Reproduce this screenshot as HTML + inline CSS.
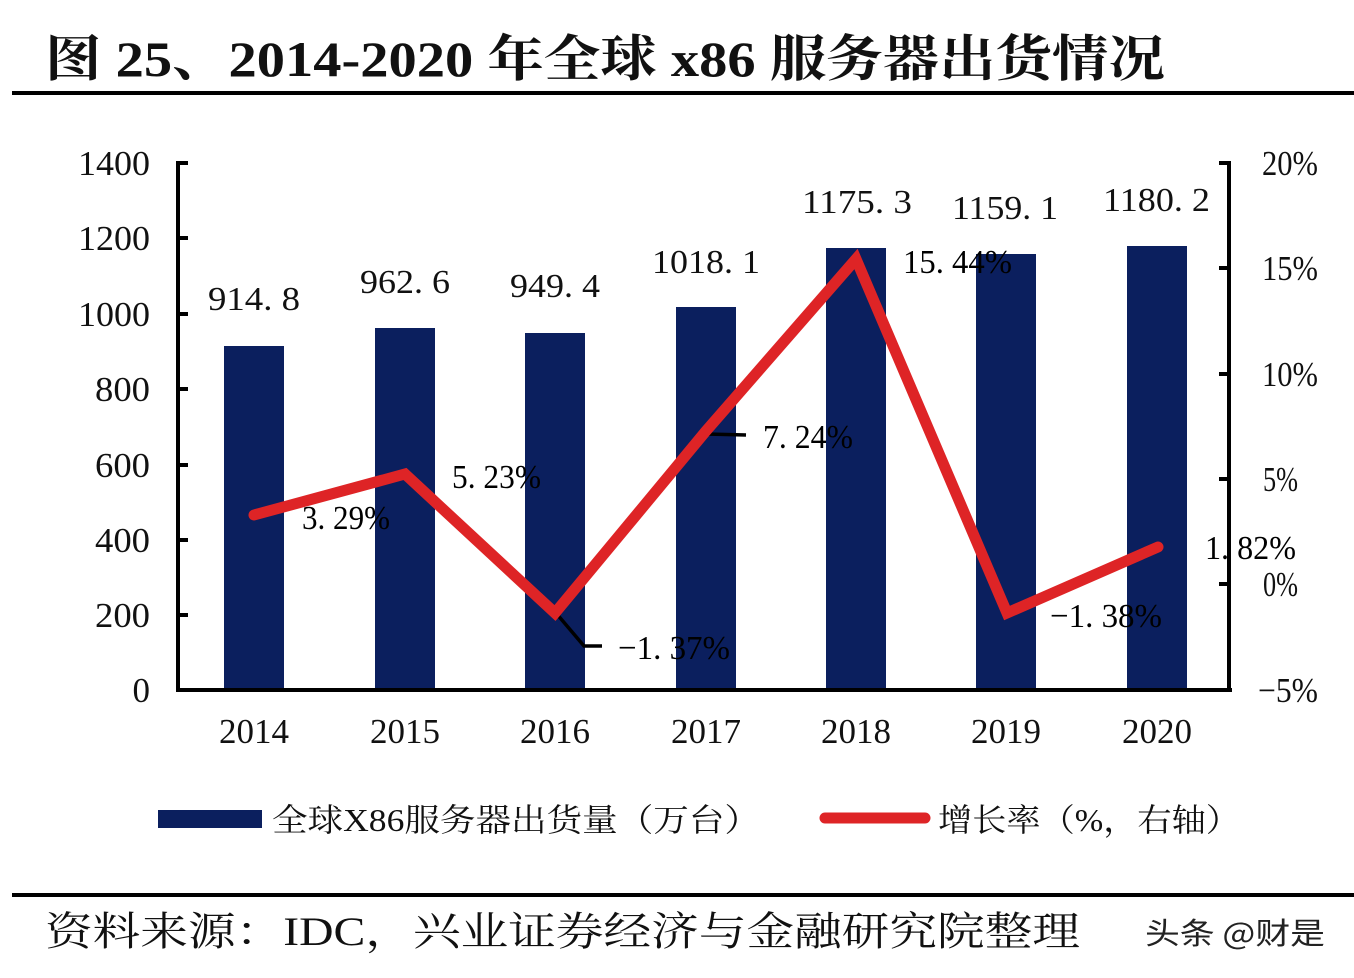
<!DOCTYPE html>
<html><head><meta charset="utf-8"><style>
html,body{margin:0;padding:0;background:#fff;}
svg{display:block;}
.s{font-family:"Liberation Serif","Noto Serif CJK SC",serif;fill:#111;}
</style></head><body>
<svg width="1354" height="978" viewBox="0 0 1354 978" xmlns="http://www.w3.org/2000/svg">
<rect width="1354" height="978" fill="#fff"/>
<!-- title -->
<text class="s" x="45" y="76" font-size="50" font-weight="bold" textLength="1120" lengthAdjust="spacingAndGlyphs">图 25、2014-2020 年全球 x86 服务器出货情况</text>
<rect x="12" y="91" width="1342" height="4" fill="#000"/>

<!-- bars -->
<g fill="#0b1f5e">
<rect x="224" y="346" width="60" height="344"/>
<rect x="375" y="328" width="60" height="362"/>
<rect x="525" y="333" width="60" height="357"/>
<rect x="676" y="307" width="60" height="383"/>
<rect x="826" y="248" width="60" height="442"/>
<rect x="976" y="254" width="60" height="436"/>
<rect x="1127" y="246" width="60" height="444"/>
</g>

<!-- percent labels -->
<g class="s" font-size="34" style="fill:#000">
<text x="302" y="529" textLength="88" lengthAdjust="spacingAndGlyphs">3. 29%</text>
<text x="452" y="488" textLength="89" lengthAdjust="spacingAndGlyphs">5. 23%</text>
<text x="618" y="659" textLength="112" lengthAdjust="spacingAndGlyphs">−1. 37%</text>
<text x="763" y="448" textLength="90" lengthAdjust="spacingAndGlyphs">7. 24%</text>
<text x="903" y="273" textLength="109" lengthAdjust="spacingAndGlyphs">15. 44%</text>
<text x="1050" y="627" textLength="112" lengthAdjust="spacingAndGlyphs">−1. 38%</text>
<text x="1205" y="559" textLength="91" lengthAdjust="spacingAndGlyphs">1. 82%</text>
</g>

<!-- leader lines -->
<polyline points="556,613 584,646 602,646" fill="none" stroke="#000" stroke-width="3.5"/>
<line x1="706" y1="434" x2="746" y2="435" stroke="#000" stroke-width="3.5"/>

<!-- red line -->
<polyline points="254,515 405,474 555,613 706,431 856,259 1007,613 1158,547" fill="none" stroke="#de2426" stroke-width="11" stroke-linejoin="miter" stroke-linecap="round"/>

<!-- axes -->
<g fill="#000">
<rect x="176" y="161" width="4" height="531"/>
<rect x="176" y="688" width="1056" height="4"/>
<rect x="1227" y="161" width="4" height="531"/>
<rect x="176" y="161" width="12" height="4"/>
<rect x="176" y="236" width="12" height="4"/>
<rect x="176" y="312" width="12" height="4"/>
<rect x="176" y="387" width="12" height="4"/>
<rect x="176" y="463" width="12" height="4"/>
<rect x="176" y="538" width="12" height="4"/>
<rect x="176" y="613" width="12" height="4"/>
<rect x="1219" y="161" width="12" height="4"/>
<rect x="1219" y="266" width="12" height="4"/>
<rect x="1219" y="372" width="12" height="4"/>
<rect x="1219" y="477" width="12" height="4"/>
<rect x="1219" y="582" width="12" height="4"/>
</g>

<!-- left tick labels -->
<g class="s" font-size="35" text-anchor="end">
<text x="150" y="175" textLength="72" lengthAdjust="spacingAndGlyphs">1400</text>
<text x="150" y="250" textLength="72" lengthAdjust="spacingAndGlyphs">1200</text>
<text x="150" y="326" textLength="72" lengthAdjust="spacingAndGlyphs">1000</text>
<text x="150" y="401" textLength="55" lengthAdjust="spacingAndGlyphs">800</text>
<text x="150" y="477" textLength="55" lengthAdjust="spacingAndGlyphs">600</text>
<text x="150" y="552" textLength="55" lengthAdjust="spacingAndGlyphs">400</text>
<text x="150" y="627" textLength="55" lengthAdjust="spacingAndGlyphs">200</text>
<text x="150" y="702">0</text>
</g>

<!-- right tick labels -->
<g class="s" font-size="35">
<text x="1262" y="175" textLength="56" lengthAdjust="spacingAndGlyphs">20%</text>
<text x="1262" y="280" textLength="56" lengthAdjust="spacingAndGlyphs">15%</text>
<text x="1262" y="386" textLength="56" lengthAdjust="spacingAndGlyphs">10%</text>
<text x="1263" y="491" textLength="35" lengthAdjust="spacingAndGlyphs">5%</text>
<text x="1263" y="596" textLength="35" lengthAdjust="spacingAndGlyphs">0%</text>
<text x="1258" y="702" textLength="60" lengthAdjust="spacingAndGlyphs">−5%</text>
</g>

<!-- value labels -->
<g class="s" font-size="34">
<text x="208" y="310" textLength="92" lengthAdjust="spacingAndGlyphs">914. 8</text>
<text x="360" y="293" textLength="90" lengthAdjust="spacingAndGlyphs">962. 6</text>
<text x="510" y="297" textLength="90" lengthAdjust="spacingAndGlyphs">949. 4</text>
<text x="652" y="273" textLength="108" lengthAdjust="spacingAndGlyphs">1018. 1</text>
<text x="802" y="213" textLength="110" lengthAdjust="spacingAndGlyphs">1175. 3</text>
<text x="952" y="219" textLength="106" lengthAdjust="spacingAndGlyphs">1159. 1</text>
<text x="1103" y="211" textLength="107" lengthAdjust="spacingAndGlyphs">1180. 2</text>
</g>

<!-- year labels -->
<g class="s" font-size="35" text-anchor="middle">
<text x="254" y="743" textLength="70" lengthAdjust="spacingAndGlyphs">2014</text>
<text x="405" y="743" textLength="70" lengthAdjust="spacingAndGlyphs">2015</text>
<text x="555" y="743" textLength="70" lengthAdjust="spacingAndGlyphs">2016</text>
<text x="706" y="743" textLength="70" lengthAdjust="spacingAndGlyphs">2017</text>
<text x="856" y="743" textLength="70" lengthAdjust="spacingAndGlyphs">2018</text>
<text x="1006" y="743" textLength="70" lengthAdjust="spacingAndGlyphs">2019</text>
<text x="1157" y="743" textLength="70" lengthAdjust="spacingAndGlyphs">2020</text>
</g>

<!-- legend -->
<rect x="158" y="810" width="104" height="18" fill="#0b1f5e"/>
<text class="s" x="272" y="831" font-size="32" textLength="488" lengthAdjust="spacingAndGlyphs">全球X86服务器出货量（万台）</text>
<line x1="825" y1="818" x2="925" y2="818" stroke="#de2426" stroke-width="11" stroke-linecap="round"/>
<text class="s" x="938" y="831" font-size="32" textLength="302" lengthAdjust="spacingAndGlyphs">增长率（%，右轴）</text>

<!-- bottom rule and source -->
<rect x="12" y="893" width="1342" height="4" fill="#000"/>
<text class="s" x="45" y="945" font-size="40" textLength="1035" lengthAdjust="spacingAndGlyphs">资料来源：IDC，兴业证券经济与金融研究院整理</text>
<text x="1145" y="944" font-size="30" fill="#222" font-family="'Noto Sans CJK SC','Liberation Sans',sans-serif" textLength="180" lengthAdjust="spacingAndGlyphs">头条 @财是</text>
</svg>
</body></html>
